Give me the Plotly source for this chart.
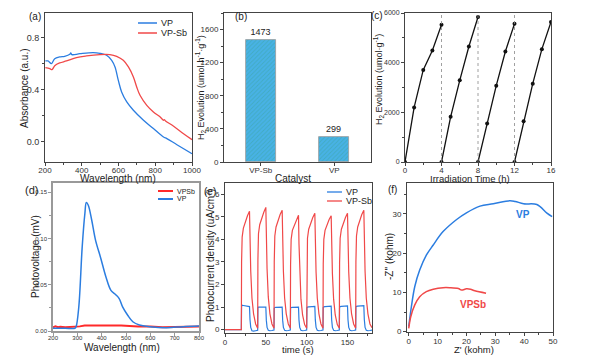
import plotly.graph_objects as go

W, H = 605, 359
FONT = "Liberation Sans, Arial, sans-serif"
BLUE = "#2b7de0"
RED = "#f04848"

# ---------------- (a) UV-vis absorbance ----------------
a_vp_x = [202, 216, 235, 253, 280, 307, 335, 340, 346, 390, 462, 499, 535, 563, 581, 599, 617, 645, 681, 736, 790, 845, 863, 918, 1000]
a_vp_y = [0.623, 0.623, 0.603, 0.641, 0.654, 0.659, 0.674, 0.685, 0.672, 0.679, 0.687, 0.682, 0.667, 0.628, 0.577, 0.474, 0.385, 0.308, 0.244, 0.167, 0.103, 0.038, 0.026, -0.021, -0.090]
a_sb_x = [202, 226, 238, 253, 280, 317, 371, 426, 499, 553, 590, 626, 654, 681, 699, 717, 754, 790, 827, 845, 849, 856, 900, 954, 1000]
a_sb_y = [0.572, 0.564, 0.556, 0.587, 0.608, 0.623, 0.649, 0.662, 0.672, 0.672, 0.659, 0.628, 0.577, 0.500, 0.423, 0.359, 0.282, 0.231, 0.192, 0.167, 0.172, 0.162, 0.121, 0.064, 0.018]

# ---------------- (b) H2 evolution rate ----------------
b_catalysts = ["VP-Sb", "VP"]
b_rates = [1473, 299]

# ---------------- (c) cycling ----------------
c_time = [0, 1, 2, 3, 4, None, 4, 5, 6, 7, 8, None, 8, 9, 10, 11, 12, None, 12, 13, 14, 15, 16]
c_h2 = [0, 2198, 3708, 4490, 5528, None, 0, 1820, 3290, 4652, 5838, None, 0, 1551, 3074, 4449, 5569, None, 0, 1645, 3155, 4544, 5636]
c_cycle_ends = [4, 8, 12]

# ---------------- (d) surface photovoltage ----------------
d_vp_x = [200, 250, 290, 295, 306, 320, 331, 337, 345, 359, 375, 396, 417, 438, 459, 472, 486, 507, 528, 555, 597, 666, 735, 800]
d_vp_y = [0.003, 0.003, 0.003, 0.0047, 0.026, 0.091, 0.127, 0.139, 0.136, 0.120, 0.098, 0.079, 0.059, 0.044, 0.039, 0.035, 0.026, 0.017, 0.010, 0.0065, 0.0047, 0.0036, 0.0047, 0.0054]
d_sb_x = [200, 210, 220, 230, 250, 270, 290, 310, 330, 400, 480, 550, 600, 650, 700, 750, 800]
d_sb_y = [0.004, 0.005, 0.004, 0.0045, 0.004, 0.0042, 0.004, 0.005, 0.006, 0.006, 0.006, 0.005, 0.005, 0.004, 0.004, 0.0045, 0.005]

# ---------------- (e) transient photocurrent ----------------
e_time = [0, 20,
          20.3, 21, 22.5, 25, 27.5, 30, 30.6, 31.5, 33, 35, 37.5, 40,
          40.3, 41, 42.5, 45, 47.5, 50, 50.6, 51.5, 53, 55, 57.5, 60,
          60.3, 61, 62.5, 65, 67.5, 70, 70.6, 71.5, 73, 75, 77.5, 80,
          80.3, 81, 82.5, 85, 87.5, 90, 90.6, 91.5, 93, 95, 97.5, 100,
          100.3, 101, 102.5, 105, 107.5, 110, 110.6, 111.5, 113, 115, 117.5, 120,
          120.3, 121, 122.5, 125, 127.5, 130, 130.6, 131.5, 133, 135, 137.5, 140,
          140.3, 141, 142.5, 145, 147.5, 150, 150.6, 151.5, 153, 155, 157.5, 160,
          160.3, 161, 162.5, 165, 167.5, 170, 170.6, 171.5, 173, 175, 177.5, 180]
e_vpsb = [0, 0,
          3.0, 4.1, 4.5, 4.8, 5.05, 5.25, 3.9, 2.6, 1.4, 0.7, 0.25, 0.06,
          3.1, 4.25, 4.65, 4.95, 5.2, 5.42, 4.0, 2.7, 1.45, 0.7, 0.25, 0.06,
          3.0, 4.15, 4.55, 4.85, 5.1, 5.29, 3.9, 2.6, 1.4, 0.7, 0.25, 0.06,
          2.9, 4.0, 4.4, 4.65, 4.9, 5.07, 3.8, 2.5, 1.35, 0.65, 0.22, 0.06,
          2.95, 4.05, 4.45, 4.75, 4.97, 5.16, 3.85, 2.55, 1.4, 0.7, 0.25, 0.06,
          2.9, 4.0, 4.4, 4.65, 4.88, 5.05, 3.8, 2.5, 1.35, 0.65, 0.22, 0.06,
          2.95, 4.05, 4.45, 4.75, 4.97, 5.16, 3.85, 2.55, 1.4, 0.7, 0.25, 0.06,
          3.0, 4.15, 4.55, 4.85, 5.1, 5.29, 3.9, 2.6, 1.4, 0.7, 0.25, 0.08]
e_vp = [0, 0,
        1.02, 1.08, 1.07, 1.05, 1.03, 1.02, 0.45, 0.10, -0.05, -0.07, -0.05, -0.03,
        0.97, 1.00, 1.00, 0.99, 0.99, 1.00, 0.42, 0.10, -0.03, -0.05, -0.04, -0.02,
        0.95, 0.98, 0.99, 0.99, 1.00, 1.00, 0.42, 0.10, -0.03, -0.05, -0.04, -0.02,
        0.95, 0.98, 0.99, 0.99, 1.00, 1.00, 0.42, 0.10, -0.03, -0.05, -0.04, -0.02,
        0.97, 1.00, 1.01, 1.02, 1.03, 1.03, 0.43, 0.10, -0.03, -0.05, -0.04, -0.02,
        0.98, 1.01, 1.02, 1.03, 1.04, 1.04, 0.44, 0.10, -0.03, -0.05, -0.04, -0.02,
        0.99, 1.02, 1.03, 1.04, 1.05, 1.05, 0.44, 0.10, -0.03, -0.05, -0.04, -0.02,
        1.00, 1.03, 1.04, 1.05, 1.06, 1.06, 0.45, 0.10, -0.03, -0.05, -0.04, -0.02]

# ---------------- (f) Nyquist ----------------
f_vp_x = [0, 0.93, 2.1, 3.8, 6.1, 8.5, 11.9, 16.6, 20, 24.7, 29.3, 35.1, 36.9, 39.8, 44.4, 47.9, 49.7]
f_vp_y = [1.3, 6.4, 11.5, 15.7, 19.5, 22.1, 25.5, 28.6, 30.3, 32.0, 32.6, 33.4, 33.2, 32.6, 32.4, 30.2, 29.3]
f_sb_x = [0, 0.7, 2.1, 3.8, 6.1, 8.5, 11.9, 14.2, 17.2, 18.3, 20, 21.4, 22.9, 26.8]
f_sb_y = [0.8, 3.8, 6.8, 8.9, 10.2, 10.8, 11.2, 11.2, 11.0, 10.6, 10.9, 10.8, 10.4, 9.8]


def px(x):
    return x / W


def py(y):
    return 1 - y / H


fig = go.Figure()

fig.add_trace(go.Scatter(x=a_vp_x, y=a_vp_y, mode="lines", line=dict(color=BLUE, width=1.3, shape="spline"), xaxis="x", yaxis="y", showlegend=False))
fig.add_trace(go.Scatter(x=a_sb_x, y=a_sb_y, mode="lines", line=dict(color=RED, width=1.3, shape="spline"), xaxis="x", yaxis="y", showlegend=False))

fig.add_trace(go.Bar(x=b_catalysts, y=b_rates, width=0.41, text=[str(v) for v in b_rates], textposition="outside",
                     textfont=dict(size=9, color="#222"), cliponaxis=False,
                     marker=dict(color="#48b2e6", line=dict(color="#9a9a9a", width=0.8),
                                 pattern=dict(shape="/", size=3, solidity=0.3, fgcolor="#3aa39c")),
                     xaxis="x2", yaxis="y2", showlegend=False))

fig.add_trace(go.Scatter(x=c_time, y=c_h2, mode="lines+markers", line=dict(color="#111", width=1.3),
                         marker=dict(size=4, color="#111"), xaxis="x3", yaxis="y3", showlegend=False, connectgaps=False))

fig.add_trace(go.Scatter(x=d_sb_x, y=d_sb_y, mode="lines", line=dict(color="#ff2a2a", width=2), xaxis="x4", yaxis="y4", showlegend=False))
fig.add_trace(go.Scatter(x=d_vp_x, y=d_vp_y, mode="lines", line=dict(color=BLUE, width=1.5, shape="spline"), xaxis="x4", yaxis="y4", showlegend=False))

fig.add_trace(go.Scatter(x=e_time, y=e_vp, mode="lines", line=dict(color=BLUE, width=1.2), xaxis="x5", yaxis="y5", showlegend=False))
fig.add_trace(go.Scatter(x=e_time, y=e_vpsb, mode="lines", line=dict(color=RED, width=1.2), xaxis="x5", yaxis="y5", showlegend=False))

fig.add_trace(go.Scatter(x=f_vp_x, y=f_vp_y, mode="lines", line=dict(color=BLUE, width=1.5, shape="spline"), xaxis="x6", yaxis="y6", showlegend=False))
fig.add_trace(go.Scatter(x=f_sb_x, y=f_sb_y, mode="lines", line=dict(color=RED, width=1.5, shape="spline"), xaxis="x6", yaxis="y6", showlegend=False))

for t in c_cycle_ends:
    fig.add_shape(type="line", x0=t, x1=t, y0=0, y1=1, xref="x3", yref="y3 domain",
                  line=dict(color="#888", width=0.8, dash="dot"))


def ax(domain, rng, anchor, size=9, lc="#444", lw=1, **kw):
    d = dict(domain=domain, range=rng, anchor=anchor, showline=True, mirror=True, linecolor=lc, linewidth=lw,
             ticks="outside", ticklen=3, tickcolor=lc, tickwidth=1, showgrid=False, zeroline=False,
             automargin=False, tickfont=dict(size=size, color="#333", family=FONT))
    d.update(kw)
    return d


ytop, ybot = py(13), py(162)
fig.update_layout(
    width=W, height=H, margin=dict(l=0, r=0, t=0, b=0, pad=0, autoexpand=False),
    plot_bgcolor="white", paper_bgcolor="white",
    font=dict(family=FONT, color="#222"),
    bargap=0,
    xaxis=ax([px(45), px(192)], [200, 1000], "y", size=8, ticklabelstandoff=-3, tickvals=[200, 400, 600, 800, 1000],
             minor=dict(ticks="outside", ticklen=2, dtick=100, tickcolor="#444")),
    yaxis=ax([ybot, ytop], [-0.154, 0.992], "x", tickvals=[0.0, 0.4, 0.8], ticktext=["0.0", "0.4", "0.8"],
             minor=dict(ticks="outside", ticklen=2, dtick=0.2, tickcolor="#444")),
    xaxis2=ax([px(224), px(371)], [-0.5, 1.5], "y2", type="category", size=8, ticklabelstandoff=-3),
    yaxis2=ax([ybot, ytop], [0, 1800], "x2", size=8, tickvals=[0, 400, 800, 1200, 1600],
              minor=dict(ticks="outside", ticklen=2, dtick=200, tickcolor="#444")),
    xaxis3=ax([px(405), px(551)], [0, 16], "y3", size=8, ticklabelstandoff=-3, tickvals=[0, 4, 8, 12, 16],
              minor=dict(ticks="outside", ticklen=2, dtick=2, tickcolor="#444")),
    yaxis3=ax([ybot, ytop], [0, 6000], "x3", size=7, tickvals=[0, 2000, 4000, 6000],
              minor=dict(ticks="outside", ticklen=2, dtick=1000, tickcolor="#444")),
    xaxis4=ax([px(53), px(199)], [200, 800], "y4", size=6, lc="#999", lw=1.5, ticklabelstandoff=-3,
              tickvals=[200, 300, 400, 500, 600, 700, 800]),
    yaxis4=ax([py(331), py(183)], [0, 0.16], "x4", size=6, lc="#999", lw=1.5, tickvals=[0, 0.05, 0.10, 0.15],
              ticktext=["0.00", "0.05", "0.10", "0.15"],
              minor=dict(ticks="outside", ticklen=2, dtick=0.025, tickcolor="#999")),
    xaxis5=ax([px(225), px(372)], [0, 180], "y5", size=8, ticklabelstandoff=-2, tickvals=[0, 50, 100, 150],
              minor=dict(ticks="outside", ticklen=2, dtick=25, tickcolor="#444")),
    yaxis5=ax([py(333), py(183)], [-0.15, 6.5], "x5", size=8, tickvals=[0, 1, 2, 3, 4, 5, 6]),
    xaxis6=ax([px(407), px(553)], [-0.6, 50], "y6", size=8, ticklabelstandoff=-2, tickvals=[0, 10, 20, 30, 40, 50],
              minor=dict(ticks="outside", ticklen=2, dtick=5, tickcolor="#444")),
    yaxis6=ax([py(332), py(183)], [-0.1, 37.9], "x6", size=8, tickvals=[0, 10, 20, 30],
              minor=dict(ticks="outside", ticklen=2, dtick=5, tickcolor="#444")),
)

ann = []


def text(x, y, s, size=10, angle=0, color="#222", bold=False, xanchor="center"):
    if bold:
        s = "<b>" + s + "</b>"
    ann.append(dict(x=px(x), y=py(y), xref="paper", yref="paper", text=s, showarrow=False, textangle=angle,
                    font=dict(size=size, color=color, family=FONT), xanchor=xanchor, yanchor="middle"))


# panel labels
text(35, 17, "(a)", 10)
text(241, 17, "(b)", 10)
text(377, 16, "(c)", 10)
text(31, 190, "(d)", 11)
text(210, 191, "(e)", 10)
text(392, 189, "(f)", 10)

# axis titles
text(118, 178, "Wavelength (nm)", 10)
text(25, 88, "Absorbance (a.u.)", 10, angle=-90)
text(293, 178, "Catalyst", 10)
text(201, 88, "H<sub>2</sub> Evolution (umol·h<sup>-1</sup>·g<sup>-1</sup>)", 9, angle=-90)
text(470, 178, "Irradiation Time (h)", 9.5)
text(379, 80, "H<sub>2</sub> Evolution (umol·g<sup>-1</sup>)", 9, angle=-90)
text(122, 347, "Wavelength (nm)", 10)
text(35, 257, "Photovoltage (mV)", 10, angle=-90)
text(298, 349, "time (s)", 9.5)
text(210, 256, "Photocurrent density (uA/cm<sup>2</sup>)", 10, angle=-90)
text(474, 349, "Z' (kohm)", 9.5)
text(389, 257, "-Z'' (kohm)", 10, angle=-90)

# in-plot labels (f)
text(523, 215, "VP", 10, color=BLUE, bold=True)
text(473, 304, "VPSb", 10, color=RED, bold=True)

# legend keys: (label, colour, line x0, x1, y, text size, line width)
legend_keys = [
    ("VP", BLUE, 138, 157, 23, 9, 1.5),
    ("VP-Sb", RED, 138, 157, 33, 9, 1.5),
    ("VPSb", "#ff2a2a", 158, 173, 191, 7, 2),
    ("VP", BLUE, 158, 173, 199, 7, 2),
    ("VP", BLUE, 327, 342, 192, 9, 1.3),
    ("VP-Sb", RED, 327, 342, 201, 9, 1.3),
]
for lab, col, x0, x1, yy, sz, lw in legend_keys:
    fig.add_shape(type="line", xref="paper", yref="paper", x0=px(x0), x1=px(x1), y0=py(yy), y1=py(yy),
                  line=dict(color=col, width=lw))
    text(x1 + 2, yy, lab, sz, xanchor="left")

fig.update_layout(annotations=ann)
fig.write_html("out.html", config={"displayModeBar": False},
               post_script="document.body.style.margin='0px';document.body.style.overflow='hidden';")
